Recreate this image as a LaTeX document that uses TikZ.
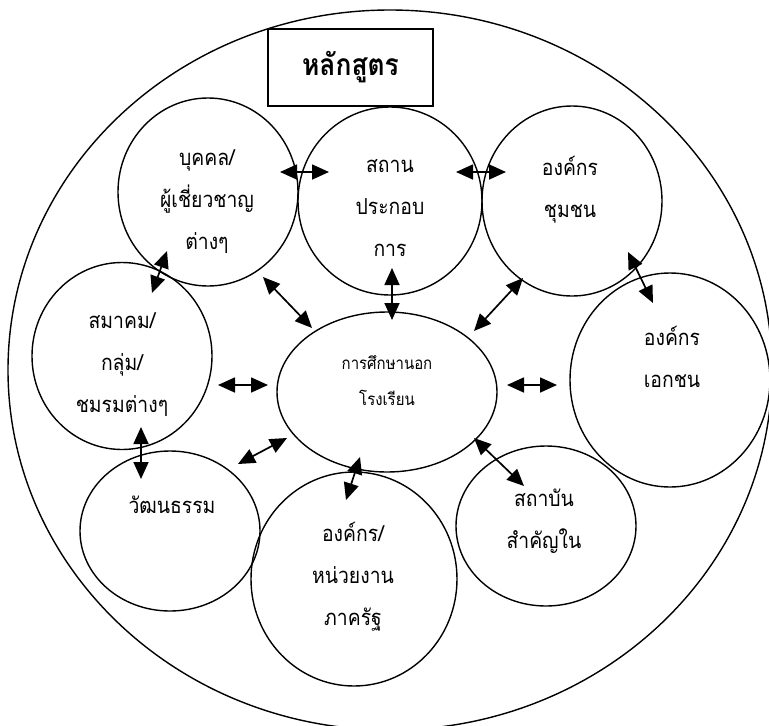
\documentclass[tikz,border=0pt]{standalone}
\usepackage{fontspec}
\newfontfamily\thaifont[Script=Thai,FakeStretch=0.88]{Loma}
\usetikzlibrary{arrows.meta,shapes.geometric}

\begin{document}
\begin{tikzpicture}[x=1pt, y=-1pt,
  circ/.style={draw, ellipse, line width=1.4pt, inner sep=0pt},
  txt/.style={align=center, font=\thaifont\fontsize{22}{42}\selectfont},
  arr/.style={{Triangle[length=17pt,width=15pt]}-{Triangle[length=17pt,width=15pt]}, line width=1.7pt}]
\useasboundingbox (0,0) rectangle (769,726);
% outer frame and title
\node[circ, minimum width=764pt, minimum height=720pt] (outer) at (390,370) {};
\node[draw, line width=1.2pt, minimum width=165pt, minimum height=77pt,
  font=\thaifont\bfseries\fontsize{30}{34}\selectfont] (title) at (350.5,67.5) {หลักสูตร};
% the circles
\node[circ, minimum width=180pt, minimum height=188pt] (person) at (208,192) {};
\node[circ, minimum width=184pt, minimum height=188pt] (firm) at (390,201) {};
\node[circ, minimum width=180pt, minimum height=190pt] (commu) at (572,201) {};
\node[circ, minimum width=200pt, minimum height=214pt] (priv) at (670,380) {};
\node[circ, minimum width=180pt, minimum height=187pt] (assoc) at (122,356) {};
\node[circ, minimum width=220pt, minimum height=160pt] (nfe) at (387,392) {};
\node[circ, minimum width=180pt, minimum height=160pt] (cult) at (170,531) {};
\node[circ, minimum width=206pt, minimum height=214pt] (gov) at (354,579) {};
\node[circ, minimum width=180pt, minimum height=160pt] (inst) at (546,526) {};
% their texts
\node[txt] (personT) at (207,202) {บุคคล/\\ผู้เชี่ยวชาญ\\ต่างๆ};
\node[txt] (firmT) at (390,208) {สถาน\\ประกอบ\\การ};
\node[txt] (commuT) at (570,190) {องค์กร\\ชุมชน};
\node[txt] (privT) at (672,357) {องค์กร\\เอกชน};
\node[txt] (assocT) at (122,365) {สมาคม/\\กลุ่ม/\\ชมรมต่างๆ};
\node[txt, font=\thaifont\fontsize{17}{36}\selectfont] (nfeT) at (387,381) {การศึกษานอก\\โรงเรียน};
\node[txt] (cultT) at (172,505) {วัฒนธรรม};
\node[txt] (govT) at (353,577) {องค์กร/\\หน่วยงาน\\ภาครัฐ};
\node[txt] (instT) at (544,521) {สถาบัน\\สำคัญใน};
% arrow ends
\coordinate (pf1) at (280,172); \coordinate (pf2) at (329,172);
\coordinate (fc1) at (456,172); \coordinate (fc2) at (506,172);
\coordinate (pa1) at (167,251); \coordinate (pa2) at (152,293);
\coordinate (pn1) at (263,277); \coordinate (pn2) at (312,328);
\coordinate (fn1) at (392,268); \coordinate (fn2) at (392,320);
\coordinate (cn1) at (523,278); \coordinate (cn2) at (474,331);
\coordinate (cp1) at (628,252); \coordinate (cp2) at (653,303);
\coordinate (np1) at (507,385); \coordinate (np2) at (557,385);
\coordinate (an1) at (218,385); \coordinate (an2) at (268,385);
\coordinate (ac1) at (141,427); \coordinate (ac2) at (141,479);
\coordinate (kn1) at (238,464); \coordinate (kn2) at (287,438);
\coordinate (ng1) at (360,457); \coordinate (ng2) at (346,500);
\coordinate (ni1) at (474,438); \coordinate (ni2) at (524,486);
\foreach \a/\b in {pf1/pf2, fc1/fc2, pa1/pa2, pn1/pn2, fn1/fn2, cn1/cn2,
  cp1/cp2, np1/np2, an1/an2, ac1/ac2, kn1/kn2, ng1/ng2, ni1/ni2}
  \draw[arr] (\a) -- (\b);
\end{tikzpicture}
\end{document}
